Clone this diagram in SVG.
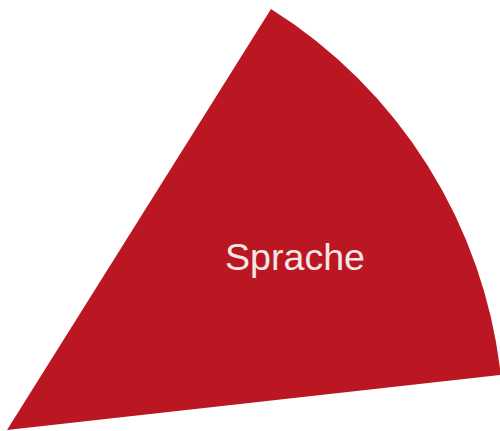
<svg xmlns="http://www.w3.org/2000/svg" width="500" height="431" viewBox="0 0 500 431">
<style>
.slice{fill:#BA1723}
.lbl{font-family:"Liberation Sans",Arial,sans-serif;font-size:36px;fill:#F5E6E6;text-anchor:middle}
</style>
<rect width="500" height="431" fill="#FFFFFF"/>
<g id="sprache">
<path class="slice" d="M7,430 L271,9 A496.9,496.9 0 0 1 500.8,374.9 Z"/>
<text class="lbl" x="295" y="270" textLength="140" lengthAdjust="spacingAndGlyphs">Sprache</text>
</g>
</svg>
